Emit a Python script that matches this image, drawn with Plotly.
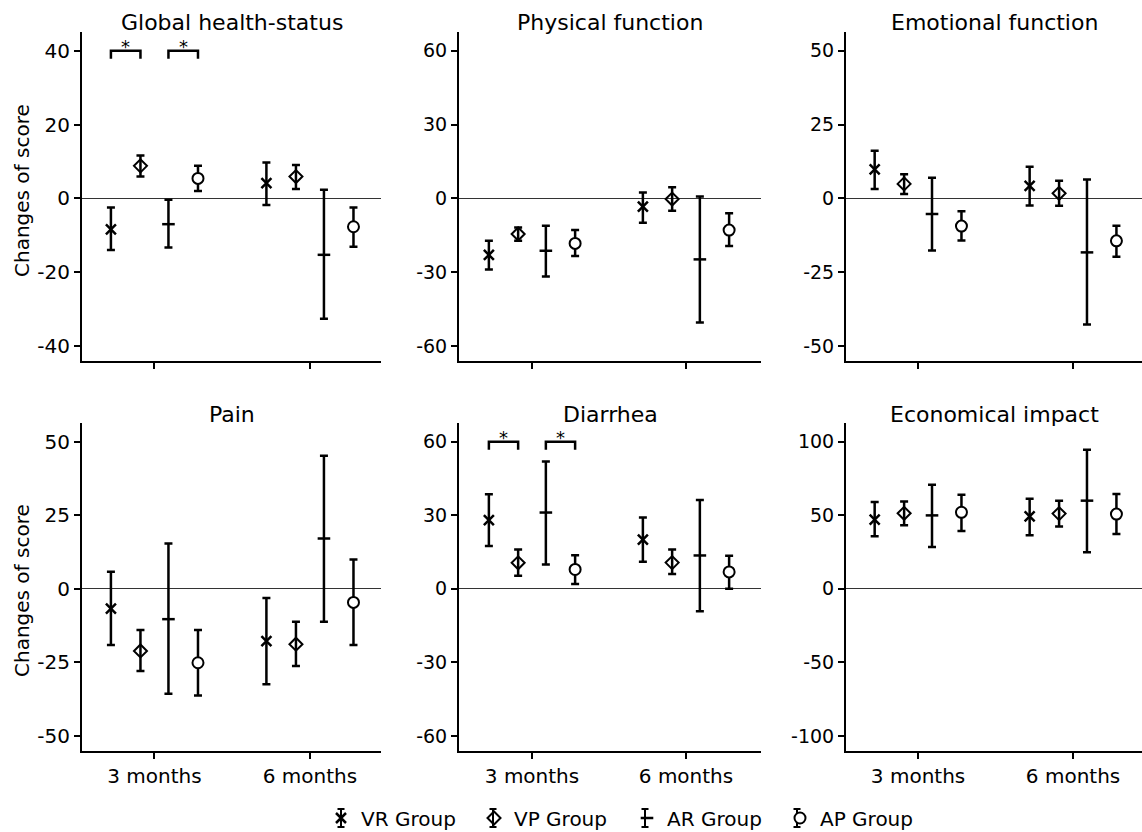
import plotly.graph_objects as go

periods = ["3 months", "6 months"]
groups = ["VR Group", "VP Group", "AR Group", "AP Group"]

# Rows follow `groups`, columns follow `periods`: mean change and interval limits.
global_mean = [[-8.4, 4.1], [8.8, 5.9], [-7.0, -15.3], [5.4, -7.7]]
global_low = [[-14.0, -1.8], [5.9, 2.5], [-13.3, -32.6], [2.0, -13.1]]
global_high = [[-2.5, 9.7], [11.6, 9.0], [-0.4, 2.3], [8.8, -2.5]]

physical_mean = [[-23.0, -3.4], [-14.5, -0.3], [-21.3, -24.8], [-18.3, -12.9]]
physical_low = [[-28.9, -9.9], [-17.2, -5.0], [-31.8, -50.5], [-23.4, -19.4]]
physical_high = [[-17.2, 2.4], [-11.8, 4.5], [-11.1, 0.7], [-12.9, -6.1]]

emotional_mean = [[9.8, 4.2], [4.9, 1.7], [-5.3, -18.3], [-9.4, -14.4]]
emotional_low = [[3.2, -2.4], [1.5, -2.5], [-17.7, -42.7], [-14.3, -19.8]]
emotional_high = [[16.1, 10.7], [8.2, 6.0], [7.0, 6.4], [-4.4, -9.3]]

pain_mean = [[-6.7, -17.8], [-21.1, -18.8], [-10.3, 17.1], [-25.1, -4.6]]
pain_low = [[-19.1, -32.4], [-27.9, -26.2], [-35.6, -11.2], [-36.2, -19.1]]
pain_high = [[5.8, -3.1], [-14.0, -11.2], [15.4, 45.2], [-14.0, 10.0]]

diarrhea_mean = [[28.0, 20.1], [10.6, 10.7], [31.1, 13.6], [7.9, 6.9]]
diarrhea_low = [[17.5, 11.0], [5.3, 6.0], [9.9, -9.1], [2.0, 0.0]]
diarrhea_high = [[38.6, 29.1], [16.0, 16.0], [51.9, 36.2], [13.7, 13.5]]

economic_mean = [[47.0, 49.3], [51.3, 51.1], [49.9, 59.9], [52.0, 50.8]]
economic_low = [[35.7, 36.4], [43.2, 42.3], [28.5, 24.9], [39.3, 37.3]]
economic_high = [[59.0, 61.2], [59.4, 59.9], [70.7, 94.5], [64.0, 64.4]]

panel_titles = ["Global health-status", "Physical function", "Emotional function",
                "Pain", "Diarrhea", "Economical impact"]
tick_max = [40, 60, 50, 50, 60, 100]

# Significant differences at 3 months: (group a, group b, bracket level)
global_sig = [("VR Group", "VP Group", 40), ("AR Group", "AP Group", 40)]
diarrhea_sig = [("VR Group", "VP Group", 60), ("AR Group", "AP Group", 60)]

panel_data = [
    (global_mean, global_low, global_high, global_sig),
    (physical_mean, physical_low, physical_high, []),
    (emotional_mean, emotional_low, emotional_high, []),
    (pain_mean, pain_low, pain_high, []),
    (diarrhea_mean, diarrhea_low, diarrhea_high, diarrhea_sig),
    (economic_mean, economic_low, economic_high, []),
]

W, H = 1142, 832
# pixel boxes of the plotting areas
col_px = [(82, 381), (459, 761), (846, 1142)]
col_xrange = [(0.534, 2.457), (0.526, 2.487), (0.535, 2.445)]
row_px = [(32, 361), (423, 751)]
ytitle_center_px = [191, 591]
tick_font_sizes = [20, 19, 19]

offsets = {"VR Group": -0.28, "VP Group": -0.09, "AR Group": 0.09, "AP Group": 0.28}
marker_styles = {
    "VR Group": dict(symbol="x-thin", size=10, color="black", line=dict(width=2.5, color="black")),
    "VP Group": dict(symbol="diamond-open", size=10, color="black", line=dict(width=2, color="black")),
    "AR Group": dict(symbol="line-ew", size=9, color="black", line=dict(width=2.5, color="black")),
    "AP Group": dict(symbol="circle", size=11, color="white", line=dict(width=2, color="black")),
}

FONT = "DejaVu Sans"
fig = go.Figure()
layout = dict(
    width=W, height=H, margin=dict(l=0, r=0, t=0, b=0, autoexpand=False),
    plot_bgcolor="white", paper_bgcolor="white",
    font=dict(family=FONT, color="black"),
    showlegend=True,
)
annotations = []
shapes = []

for i, (mean, low, high, sig) in enumerate(panel_data):
    row, col = divmod(i, 3)
    xname = "x" if i == 0 else f"x{i + 1}"
    yname = "y" if i == 0 else f"y{i + 1}"
    xkey = "xaxis" if i == 0 else f"xaxis{i + 1}"
    ykey = "yaxis" if i == 0 else f"yaxis{i + 1}"
    L, R = col_px[col]
    T, B = row_px[row]
    M = tick_max[i]

    for g, grp in enumerate(groups):
        xs = [k + 1 + offsets[grp] for k in range(len(periods))]
        fig.add_trace(go.Scatter(
            x=xs, y=mean[g], mode="markers", name=grp,
            legendgroup=grp, showlegend=(i == 0),
            marker=marker_styles[grp],
            error_y=dict(type="data", symmetric=False,
                         array=[high[g][k] - mean[g][k] for k in range(2)],
                         arrayminus=[mean[g][k] - low[g][k] for k in range(2)],
                         color="black", thickness=2.5, width=4),
            xaxis=xname, yaxis=yname, cliponaxis=False,
        ))

    layout[xkey] = dict(
        domain=[L / W, R / W], range=list(col_xrange[col]), anchor=yname,
        tickvals=[1, 2], ticktext=periods, showticklabels=(row == 1),
        ticks="outside", ticklen=6, tickwidth=2, tickcolor="black",
        showline=True, linecolor="black", linewidth=2,
        showgrid=False, zeroline=False, automargin=False,
        tickfont=dict(size=20, family=FONT, color="black"),
    )
    layout[ykey] = dict(
        domain=[1 - B / H, 1 - T / H], range=[-M * 1.1016, M * 1.1266], anchor=xname,
        tickvals=[-M, -M / 2, 0, M / 2, M],
        ticktext=[str(int(v)) for v in (-M, -M / 2, 0, M / 2, M)],
        ticks="outside", ticklen=6, tickwidth=2, tickcolor="black",
        showline=True, linecolor="black", linewidth=2,
        showgrid=False, zeroline=True, zerolinecolor="#333", zerolinewidth=1,
        automargin=False,
        tickfont=dict(size=tick_font_sizes[col], family=FONT, color="black"),
    )

    annotations.append(dict(
        text=panel_titles[i], xref="paper", yref="paper",
        x=(L + R) / 2 / W, y=1 - (T - 9) / H, xanchor="center", yanchor="middle",
        showarrow=False, font=dict(size=22, family=FONT, color="black"),
    ))
    if col == 0:
        annotations.append(dict(
            text="Changes of score", xref="paper", yref="paper",
            x=22 / W, y=1 - ytitle_center_px[row] / H, xanchor="center", yanchor="middle",
            textangle=-90, showarrow=False, font=dict(size=20, family=FONT, color="black"),
        ))

    leg = 0.055 * M
    for a, b, level in sig:
        xa, xb = 1 + offsets[a], 1 + offsets[b]
        shapes.append(dict(
            type="path", xref=xname, yref=yname,
            path=f"M {xa},{level - leg} L {xa},{level} L {xb},{level} L {xb},{level - leg}",
            line=dict(color="black", width=2.5),
        ))
        annotations.append(dict(
            text="*", xref=xname, yref=yname, x=(xa + xb) / 2, y=level,
            xanchor="center", yanchor="bottom", yshift=-8, showarrow=False,
            font=dict(size=18, family=FONT, color="#000000"),
        ))

# Legend: each entry also gets a small error-bar glyph behind its symbol
LEGEND_X, ENTRY_STEP = 321, 152
LEGEND_CY = 818
for k in range(len(groups)):
    cx = (LEGEND_X + 20 + k * ENTRY_STEP) / W
    dx = 3.5 / W
    y0, y1 = 1 - (LEGEND_CY + 9) / H, 1 - (LEGEND_CY - 9) / H
    shapes.append(dict(
        type="path", xref="paper", yref="paper", layer="below",
        path=(f"M {cx},{y0} L {cx},{y1} M {cx - dx},{y1} L {cx + dx},{y1} "
              f"M {cx - dx},{y0} L {cx + dx},{y0}"),
        line=dict(color="black", width=2),
    ))

layout["annotations"] = annotations
layout["shapes"] = shapes
layout["legend"] = dict(
    orientation="h", x=LEGEND_X / W, xanchor="left", y=1 - LEGEND_CY / H, yanchor="middle",
    font=dict(size=20, family=FONT, color="black"),
    entrywidth=ENTRY_STEP - 44, entrywidthmode="pixels", itemwidth=30,
    bgcolor="rgba(0,0,0,0)",
)
fig.update_layout(**layout)
fig.write_html("out.html")
